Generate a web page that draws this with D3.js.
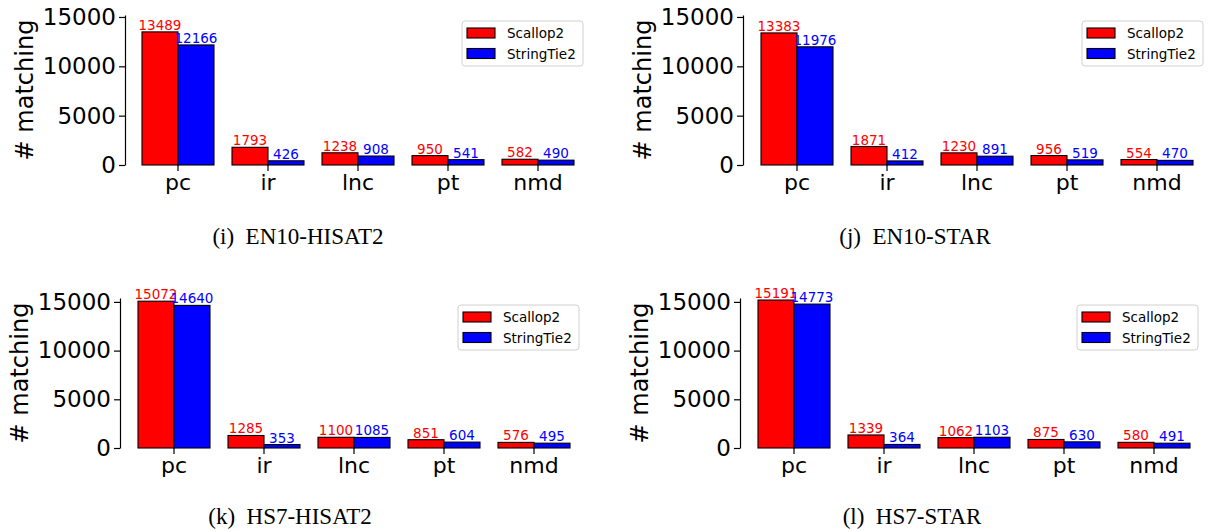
<!DOCTYPE html>
<html><head><meta charset="utf-8">
<script src="https://cdn.jsdelivr.net/npm/d3@7"></script>
<style>html,body{margin:0;padding:0;background:#fff;}</style>
</head><body>
<svg id="chart" width="1209" height="531"></svg>
<script>
const categories = ["pc", "ir", "lnc", "pt", "nmd"];
const seriesNames = ["Scallop2", "StringTie2"];
const seriesColors = ["#ff0000", "#0000ff"];
const yTicks = [0, 5000, 10000, 15000];
const captions = ["(i)  EN10-HISAT2", "(j)  EN10-STAR", "(k)  HS7-HISAT2", "(l)  HS7-STAR"];
const scallop2 = [
  [13489, 1793, 1238, 950, 582],
  [13383, 1871, 1230, 956, 554],
  [15072, 1285, 1100, 851, 576],
  [15191, 1339, 1062, 875, 580]
];
const stringtie2 = [
  [12166, 426, 908, 541, 490],
  [11976, 412, 891, 519, 470],
  [14640, 353, 1085, 604, 495],
  [14773, 364, 1103, 630, 491]
];
const yMax = [15200, 15200, 15400, 15400];

// layout per panel
const layout = [
  {spine:125, zero:165, top:15, x0:133, capX:298, capY:244, legX:462, legY:21},
  {spine:743, zero:165, top:15, x0:752, capX:915, capY:244, legX:1082, legY:21},
  {spine:120, zero:448, top:298, x0:129, capX:290, capY:524, legX:458, legY:305},
  {spine:740, zero:448, top:298, x0:749, capX:912, capY:524, legX:1077, legY:305}
];

const svg = d3.select("#chart");
const SANS = "'DejaVu Sans', sans-serif";

layout.forEach((L, p) => {
  const g = svg.append("g");
  const x = d3.scaleBand().domain(categories).range([L.x0, L.x0 + 450]).paddingInner(0.2).paddingOuter(0.1);
  const y = d3.scaleLinear().domain([0, yMax[p]]).range([L.zero, L.top]);
  const bw = x.bandwidth() / 2;
  const series = [scallop2[p], stringtie2[p]];

  series.forEach((vals, s) => {
    g.selectAll(null).data(vals).enter().append("rect")
      .attr("x", (d, i) => x(categories[i]) + s * bw)
      .attr("y", d => y(d))
      .attr("width", bw)
      .attr("height", d => y(0) - y(d))
      .attr("fill", seriesColors[s])
      .attr("stroke", "#000")
      .attr("stroke-width", 1.1);
  });
  series.forEach((vals, s) => {
    g.selectAll(null).data(vals).enter().append("text")
      .attr("x", (d, i) => x(categories[i]) + s * bw + bw / 2)
      .attr("y", d => y(d) - 2)
      .attr("text-anchor", "middle")
      .attr("font-family", SANS)
      .attr("font-size", 13.5)
      .attr("fill", seriesColors[s])
      .text(d => d);
  });

  // y axis
  const yAxis = d3.axisLeft(y).tickValues(yTicks).tickFormat(d3.format("d")).tickSize(6).tickPadding(3).tickSizeOuter(0);
  const ya = g.append("g").attr("transform", `translate(${L.spine},0)`).call(yAxis);
  ya.select(".domain").attr("stroke", "#000").attr("stroke-width", 1.2);
  ya.selectAll(".tick line").attr("stroke", "#000").attr("stroke-width", 1.2);
  ya.selectAll(".tick text").attr("font-family", SANS).attr("font-size", 23).attr("fill", "#000");

  // x axis (ticks only)
  const xAxis = d3.axisBottom(x).tickSize(6).tickPadding(3).tickSizeOuter(0);
  const xa = g.append("g").attr("transform", `translate(0,${L.zero})`).call(xAxis);
  xa.select(".domain").remove();
  xa.selectAll(".tick line").attr("stroke", "#000").attr("stroke-width", 1.2);
  xa.selectAll(".tick text").attr("font-family", SANS).attr("font-size", 22).attr("fill", "#000");

  // y label
  g.append("text")
    .attr("transform", `translate(${L.spine - 92},${(L.zero + L.top) / 2}) rotate(-90)`)
    .attr("text-anchor", "middle")
    .attr("font-family", SANS)
    .attr("font-size", 24)
    .text("# matching");

  // legend
  const lg = g.append("g").attr("transform", `translate(${L.legX},${L.legY})`);
  lg.append("rect").attr("width", 121).attr("height", 45).attr("rx", 3)
    .attr("fill", "#fff").attr("stroke", "#d0d0d0").attr("stroke-width", 1);
  seriesNames.forEach((n, s) => {
    lg.append("rect").attr("x", 5).attr("y", 7 + s * 20.5).attr("width", 28).attr("height", 10)
      .attr("fill", seriesColors[s]).attr("stroke", "#000").attr("stroke-width", 1.1);
    lg.append("text").attr("x", 45).attr("y", 17 + s * 20.5)
      .attr("font-family", SANS).attr("font-size", 13.5).text(n);
  });

  // caption
  svg.append("text")
    .attr("x", L.capX).attr("y", L.capY)
    .attr("text-anchor", "middle")
    .attr("font-family", "'Liberation Serif', 'Times New Roman', serif")
    .attr("font-size", 23)
    .attr("xml:space", "preserve")
    .style("white-space", "pre")
    .text(captions[p]);
});
</script>
</body></html>
